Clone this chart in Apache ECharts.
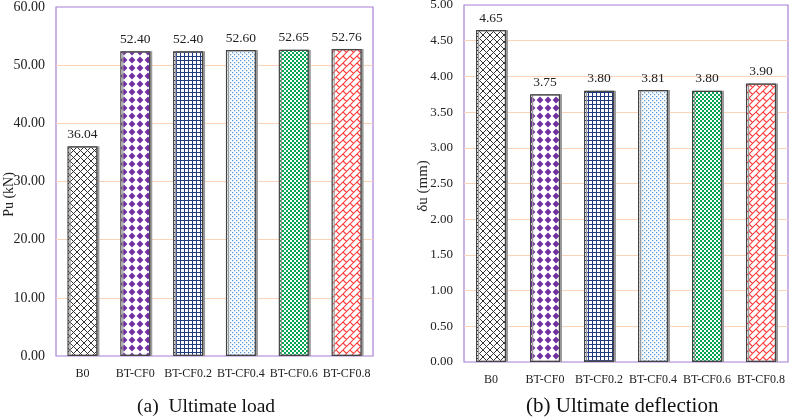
<!DOCTYPE html>
<html>
<head>
    <meta charset="UTF-8">
    <title>Ultimate load / deflection</title>
    <script src="https://cdn.jsdelivr.net/npm/echarts@6/dist/echarts.min.js"></script>
</head>
<body style="margin: 0; background: #fff;">
<div id="container" style="width: 792px; height: 420px;"></div>
<script type="text/javascript">
    var categories = ['B0', 'BT-CF0', 'BT-CF0.2', 'BT-CF0.4', 'BT-CF0.6', 'BT-CF0.8'];
    var loadValues = [36.04, 52.40, 52.40, 52.60, 52.65, 52.76];
    var deflValues = [4.65, 3.75, 3.80, 3.81, 3.80, 3.90];

    var serif = '"Liberation Serif", "DejaVu Serif", serif';
    var gridColor = '#fbd3b8';
    var frameColor = '#a77fd6';

    // small canvas tiles used as bar fills
    function tile(size, draw) {
        var c = document.createElement('canvas');
        c.width = size;
        c.height = size;
        var g = c.getContext('2d');
        g.fillStyle = '#fff';
        g.fillRect(0, 0, size, size);
        draw(g, size);
        return {image: c, repeat: 'repeat'};
    }

    var fills = [
        // black diagonal cross hatch
        tile(7, function (g, s) {
            g.strokeStyle = '#333';
            g.lineWidth = 1;
            g.beginPath();
            g.moveTo(-1, -1); g.lineTo(s + 1, s + 1);
            g.moveTo(s + 1, -1); g.lineTo(-1, s + 1);
            g.stroke();
        }),
        // purple diamonds
        tile(8, function (g, s) {
            g.fillStyle = '#7030a0';
            g.beginPath();
            g.moveTo(4, 0.6); g.lineTo(7.4, 4); g.lineTo(4, 7.4); g.lineTo(0.6, 4);
            g.closePath();
            g.fill();
        }),
        // dark blue small grid
        tile(4, function (g, s) {
            g.fillStyle = '#203a80';
            g.fillRect(0, 0, s, 1);
            g.fillRect(0, 0, 1, s);
        }),
        // light blue dots
        tile(4, function (g, s) {
            g.fillStyle = '#5b9bd5';
            g.fillRect(0, 0, 1.3, 1.3);
            g.fillRect(2, 2, 1.3, 1.3);
        }),
        // green confetti
        tile(4, function (g, s) {
            g.fillStyle = '#00a651';
            g.fillRect(0, 0, 2, 2);
            g.fillRect(2, 2, 2, 2);
        }),
        // red diagonal brick
        tile(14, function (g, s) {
            g.strokeStyle = '#ff3b3b';
            g.lineWidth = 1.1;
            g.beginPath();
            for (var c = -14; c <= 42; c += 7) {
                g.moveTo(c + 20, -20); g.lineTo(-20, c + 20);
            }
            var segs = [[0, 0], [7, -7], [7, 0], [14, -7]];
            for (var i = 0; i < segs.length; i++) {
                for (var ox = -28; ox <= 28; ox += 14) {
                    for (var oy = -28; oy <= 28; oy += 14) {
                        var x = segs[i][0] + ox, y = segs[i][1] + oy;
                        g.moveTo(x, y); g.lineTo(x + 3.5, y + 3.5);
                    }
                }
            }
            g.stroke();
        })
    ];

    function barData(values) {
        var out = [];
        for (var i = 0; i < values.length; i++) {
            out.push({
                value: values[i],
                itemStyle: {color: fills[i]}
            });
        }
        return out;
    }

    // split line colours: first and last left out so the purple frame shows
    function splitColors(n) {
        var arr = [];
        for (var i = 0; i < n; i++) {
            arr.push(i === 0 || i === n - 1 ? 'rgba(0,0,0,0)' : gridColor);
        }
        return arr;
    }

    var catText = {color: '#222', fontFamily: serif, fontSize: 12};
    var fmt2 = function (v) { return v.toFixed(2); };

    var chart = echarts.init(document.getElementById('container'));
    var option = {
        animation: false,
        backgroundColor: '#fff',
        grid: [
            {left: 56, top: 7, width: 317, height: 349, show: true, borderColor: frameColor, borderWidth: 1.2,
                containLabel: false, outerBoundsMode: 'none'},
            {left: 464, top: 5, width: 324, height: 357, show: true, borderColor: frameColor, borderWidth: 1.2,
                containLabel: false, outerBoundsMode: 'none'}
        ],
        xAxis: [
            {gridIndex: 0, type: 'category', data: categories,
                axisLine: {show: false}, axisTick: {show: false},
                axisLabel: Object.assign({margin: 12, interval: 0}, catText)},
            {gridIndex: 1, type: 'category', data: categories,
                axisLine: {show: false}, axisTick: {show: false},
                axisLabel: Object.assign({margin: 12, interval: 0}, catText)}
        ],
        yAxis: [
            {gridIndex: 0, type: 'value', min: 0, max: 60, interval: 10,
                name: 'Pu (kN)', nameLocation: 'middle', nameGap: 40, nameMoveOverlap: false,
                nameTextStyle: {color: '#222', fontFamily: serif, fontSize: 14, padding: [0, 26, 0, 0]},
                axisLine: {show: false}, axisTick: {show: false},
                axisLabel: {margin: 11, formatter: fmt2, color: '#222', fontFamily: serif, fontSize: 14},
                splitLine: {lineStyle: {color: splitColors(7), width: 1}}},
            {gridIndex: 1, type: 'value', min: 0, max: 5, interval: 0.5,
                name: 'δu (mm)', nameLocation: 'middle', nameGap: 33, nameMoveOverlap: false,
                nameTextStyle: {color: '#222', fontFamily: serif, fontSize: 15, padding: [0, 5, 0, 0]},
                axisLine: {show: false}, axisTick: {show: false},
                axisLabel: {margin: 11, formatter: fmt2, color: '#222', fontFamily: serif, fontSize: 13},
                splitLine: {lineStyle: {color: splitColors(11), width: 1}}}
        ],
        series: [
            {
                type: 'bar', xAxisIndex: 0, yAxisIndex: 0, barWidth: 30,
                data: barData(loadValues),
                itemStyle: {borderColor: '#444', borderWidth: 1.2,
                    shadowColor: '#9a9a9a', shadowOffsetX: 2, shadowBlur: 0},
                label: {show: true, position: 'top', distance: 5, color: '#222',
                    fontFamily: serif, fontSize: 13.5,
                    formatter: function (p) { return p.value.toFixed(2); }}
            },
            {
                type: 'bar', xAxisIndex: 1, yAxisIndex: 1, barWidth: 30,
                data: barData(deflValues),
                itemStyle: {borderColor: '#444', borderWidth: 1.2,
                    shadowColor: '#9a9a9a', shadowOffsetX: 2, shadowBlur: 0},
                label: {show: true, position: 'top', distance: 5, color: '#222',
                    fontFamily: serif, fontSize: 13.5,
                    formatter: function (p) { return p.value.toFixed(2); }}
            }
        ],
        graphic: [
            {type: 'text', left: 137, top: 397,
                style: {text: '(a)  Ultimate load', fill: '#111', font: '19.5px ' + serif}},
            {type: 'text', left: 526, top: 396,
                style: {text: '(b) Ultimate deflection', fill: '#111', font: '21px ' + serif}}
        ]
    };
    chart.setOption(option);
</script>
</body>
</html>
